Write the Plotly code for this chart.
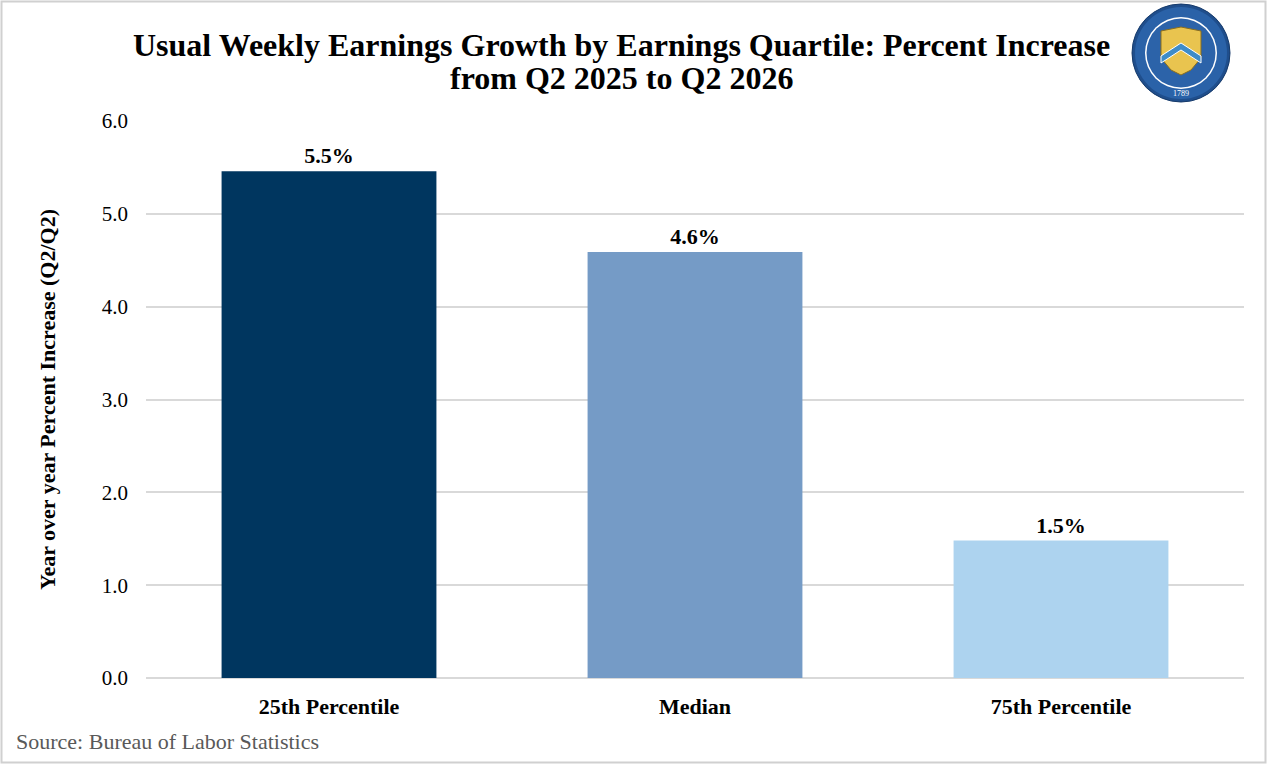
import plotly.graph_objects as go

categories = ["25th Percentile", "Median", "75th Percentile"]
values = [5.46, 4.59, 1.48]
colors = ["#00365F", "#759BC6", "#ADD3EF"]
y_ticks = [0, 1, 2, 3, 4, 5, 6]
y_tick_labels = ["0.0", "1.0", "2.0", "3.0", "4.0", "5.0", "6.0"]
title_lines = ["Usual Weekly Earnings Growth by Earnings Quartile: Percent Increase",
               "from Q2 2025 to Q2 2026"]

W, H = 1268, 764
ML, MR, MT, MB = 146, 24, 121, 86
PW, PH = W - ML - MR, H - MT - MB

def px(x):
    return (x - ML) / PW

def py(y):
    return (H - MB - y) / PH

FONT = "Liberation Serif, Times New Roman, serif"

fig = go.Figure(go.Bar(
    x=categories, y=values,
    marker=dict(color=colors, line=dict(width=0)),
    texttemplate="<b>%{y:.1f}%</b>", textposition="outside",
    textfont=dict(family=FONT, size=22, color="#000000"),
    cliponaxis=False, hoverinfo="skip",
))

shapes = [
    dict(type="rect", xref="paper", yref="paper", x0=px(1.5), x1=px(1265.5), y0=py(762.5), y1=py(1.5),
         line=dict(color="#D0D0D0", width=2), fillcolor="rgba(0,0,0,0)", layer="below"),
]
# seal approximation
cx, cy, r = 1181, 53, 49
def circ(rr, fill, line="rgba(0,0,0,0)", lw=0):
    return dict(type="circle", xref="paper", yref="paper",
                x0=px(cx - rr), x1=px(cx + rr), y0=py(cy + rr), y1=py(cy - rr),
                fillcolor=fill, line=dict(color=line, width=lw))
shapes += [circ(r, "#1F4E8C", "#163A6A", 1), circ(r - 3, "#2A62A8"),
           circ(r - 13, "#FFFFFF"), circ(r - 14.5, "#2C63A9")]
def pth(points):
    return "M " + " L ".join(f"{px(a):.5f},{py(b):.5f}" for a, b in points) + " Z"
shield = [(1161, 31), (1181, 27), (1201, 31), (1201, 58), (1191, 70), (1181, 75), (1171, 70), (1161, 58)]
shapes.append(dict(type="path", xref="paper", yref="paper", path=pth(shield),
                   fillcolor="#E9C44F", line=dict(color="#8A6E1E", width=1)))
chevron = [(1161, 56), (1181, 43), (1201, 56), (1201, 63), (1181, 50), (1161, 63)]
shapes.append(dict(type="path", xref="paper", yref="paper", path=pth(chevron),
                   fillcolor="#3E8CC9", line=dict(color="#FFFFFF", width=1)))

annotations = [
    dict(text=title_lines[0], xref="paper", yref="paper", x=px(621), y=py(45),
         xanchor="center", yanchor="middle", showarrow=False,
         font=dict(family=FONT, size=32, color="#000000", weight="bold")),
    dict(text=title_lines[1], xref="paper", yref="paper", x=px(621), y=py(78),
         xanchor="center", yanchor="middle", showarrow=False,
         font=dict(family=FONT, size=32, color="#000000", weight="bold")),
    dict(text="Source: Bureau of Labor Statistics", xref="paper", yref="paper",
         x=px(14), y=py(741), xanchor="left", yanchor="middle", showarrow=False,
         font=dict(family=FONT, size=22, color="#595959")),
    dict(text="1789", xref="paper", yref="paper", x=px(cx), y=py(cy + 41), showarrow=False,
         xanchor="center", yanchor="middle", font=dict(family=FONT, size=8, color="#FFFFFF")),
]

fig.update_layout(
    width=W, height=H,
    margin=dict(l=ML, r=MR, t=MT, b=MB),
    paper_bgcolor="#FFFFFF", plot_bgcolor="#FFFFFF",
    showlegend=False,
    bargap=0.413,
    xaxis=dict(showgrid=False, showline=False, ticks="", ticklabelstandoff=13,
               tickfont=dict(family=FONT, size=22, color="#000000", weight="bold")),
    yaxis=dict(range=[0, 6], tickvals=y_ticks, ticktext=y_tick_labels,
               showgrid=True, gridcolor="#D9D9D9", gridwidth=1.5,
               zeroline=True, zerolinecolor="#D9D9D9", zerolinewidth=1.5,
               showline=False, ticks="", ticklabelstandoff=17,
               tickfont=dict(family=FONT, size=21, color="#000000"),
               title=dict(text="Year over year Percent Increase (Q2/Q2)", standoff=40,
                          font=dict(family=FONT, size=22, color="#000000", weight="bold"))),
    shapes=shapes, annotations=annotations,
)

fig.write_html("out.html", config={"displayModeBar": False},
               post_script="document.body.style.margin='0';document.body.style.overflow='hidden';")
